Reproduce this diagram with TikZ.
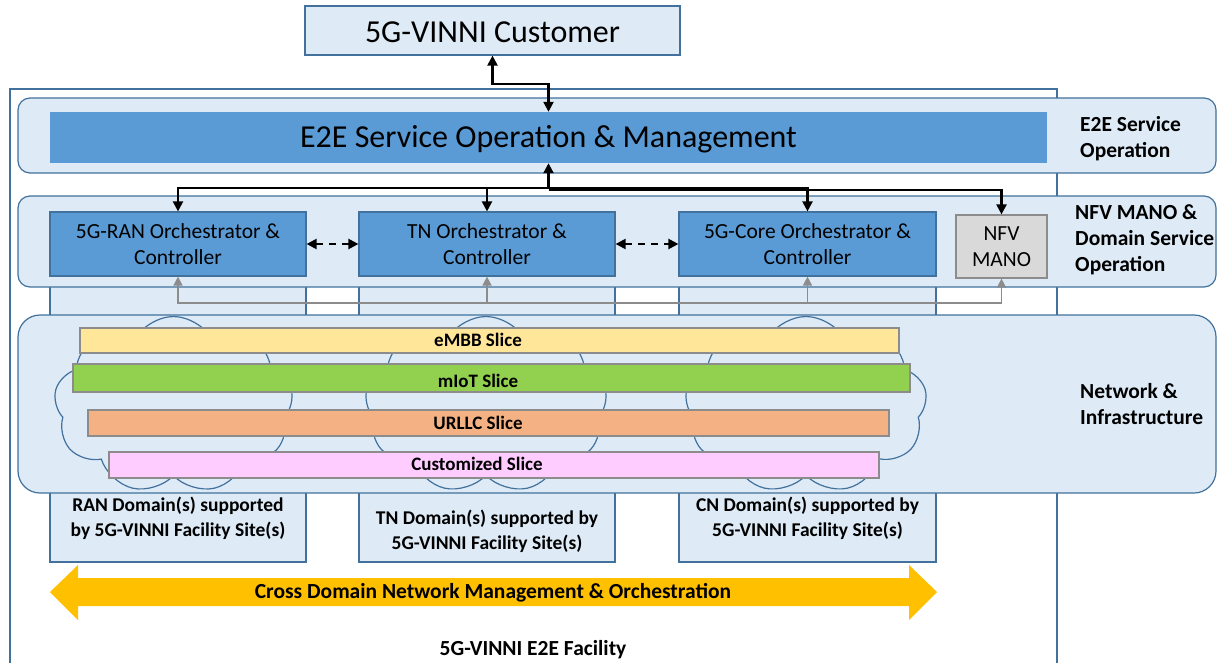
\documentclass[tikz,border=0pt]{standalone}
\usepackage{fontspec}
\setmainfont{Carlito}
\usetikzlibrary{arrows.meta,shapes.symbols,calc}
\definecolor{lb}{HTML}{DEEBF7}
\definecolor{bd}{HTML}{41719C}
\definecolor{db}{HTML}{5B9BD5}
\definecolor{nfvgray}{HTML}{D9D9D9}
\definecolor{gline}{HTML}{8C8C8C}
\definecolor{cembb}{HTML}{FFE699}
\definecolor{cmiot}{HTML}{92D050}
\definecolor{curllc}{HTML}{F4B183}
\definecolor{ccust}{HTML}{FFCCFF}
\definecolor{cyel}{HTML}{FFC000}
\newcommand\fsz[2]{\fontsize{#1}{#2}\selectfont}
\begin{document}
\begin{tikzpicture}[x=1pt,y=-1pt,
  >={Triangle[length=10pt,width=10pt]},
  lbox/.style={draw=bd,fill=lb,line width=1.2pt,inner sep=0pt},
  layer/.style={draw=bd,fill=lb,line width=1.2pt,inner sep=0pt},
  orch/.style={draw=bd,fill=db,line width=1.2pt,inner sep=0pt,align=center,font=\fsz{21.5}{26}},
  slicebox/.style={draw=gline,line width=1.5pt,inner sep=0pt},
  slicetxt/.style={font=\fsz{19}{22}\bfseries,inner sep=0pt},
  sidetxt/.style={font=\fsz{21.5}{26}\bfseries,align=left,anchor=west,inner sep=0pt},
  domtxt/.style={font=\fsz{19.5}{25}\bfseries,align=center,inner sep=0pt},
  cloudy/.style={cloud,cloud puffs=9,cloud puff arc=120,cloud ignores aspect,draw=bd,fill=lb,line width=1.2pt,inner sep=0pt},
  blk/.style={line width=2.2pt,black},
  garr/.style={line width=1.6pt,gline,>={Triangle[length=9pt,width=9pt]}}]
\useasboundingbox (0,0) rectangle (1217,662);
\fill[white] (0,0) rectangle (1217,662);
% outer facility frame
\draw[bd,line width=1.2pt] (10,89) rectangle (1057,680);
% customer
\node[lbox,minimum width=375pt,minimum height=49pt] (cust) at (492.5,30.5) {};
\node[font=\fsz{32}{36},inner sep=0pt] (custtxt) at (492.5,32) {5G-VINNI Customer};
% E2E layer
\node[layer,rounded corners=12pt,minimum width=1198pt,minimum height=75pt] (l1) at (617,135.5) {};
\node[fill=db,inner sep=0pt,minimum width=997pt,minimum height=51pt] (bar) at (548.5,137.5) {};
\node[font=\fsz{32}{36},inner sep=0pt] (bartxt) at (548.5,139.5) {E2E Service Operation \& Management};
% domain columns
\node[lbox,minimum width=256pt,minimum height=312pt] (rancol) at (178,406) {};
\node[lbox,minimum width=256pt,minimum height=312pt] (tncol) at (487,406) {};
\node[lbox,minimum width=257pt,minimum height=312pt] (cncol) at (807.5,406) {};
% NFV layer
\node[layer,rounded corners=12pt,minimum width=1198pt,minimum height=91pt] (l2) at (617,241.5) {};
\node[orch,minimum width=256pt,minimum height=64pt] (ran) at (178,244) {5G-RAN Orchestrator \&\\Controller};
\node[orch,minimum width=256pt,minimum height=64pt] (tn) at (487,244) {TN Orchestrator \&\\Controller};
\node[orch,minimum width=257pt,minimum height=64pt] (core) at (807.5,244) {5G-Core Orchestrator \&\\Controller};
\node[orch,draw=gline,fill=nfvgray,minimum width=91pt,minimum height=63pt] (nfv) at (1001.5,246.5) {NFV\\MANO};
% network layer
\node[layer,rounded corners=22pt,minimum width=1198pt,minimum height=178pt] (l3) at (617,404) {};
\node[cloudy,minimum width=239pt,minimum height=177pt] (cl1) at (173.5,405) {};
\node[cloudy,minimum width=242pt,minimum height=177pt] (cl2) at (486,405) {};
\node[cloudy,minimum width=242pt,minimum height=177pt] (cl3) at (806,405) {};
% slices
\node[slicebox,fill=cembb,minimum width=819pt,minimum height=25pt] (embb) at (489.5,340.5) {};
\node[slicebox,fill=cmiot,minimum width=837pt,minimum height=28pt] (miot) at (491.5,378) {};
\node[slicebox,fill=curllc,minimum width=801pt,minimum height=26pt] (urllc) at (488.5,423) {};
\node[slicebox,fill=ccust,minimum width=770pt,minimum height=26pt] (custs) at (494,465) {};
\node[slicetxt] (tembb) at (478,339.5) {eMBB Slice};
\node[slicetxt] (tmiot) at (478,380.5) {mIoT Slice};
\node[slicetxt] (turllc) at (478,423) {URLLC Slice};
\node[slicetxt] (tcusts) at (477,464) {Customized Slice};
% domain labels
\node[domtxt] (dran) at (178,518) {RAN Domain(s) supported\\by 5G-VINNI Facility Site(s)};
\node[domtxt] (dtn) at (487,531.5) {TN Domain(s) supported by\\5G-VINNI Facility Site(s)};
\node[domtxt] (dcn) at (807.5,518) {CN Domain(s) supported by\\5G-VINNI Facility Site(s)};
% side labels
\node[sidetxt] (s1) at (1080,139) {E2E Service\\Operation};
\node[sidetxt] (s2) at (1075,240) {NFV MANO \&\\Domain Service\\Operation};
\node[sidetxt] (s3) at (1080,404) {Network \&\\Infrastructure};
% black arrows
\draw[blk,<->] (cust.south) |- ($(bar.north)+(0,-28)$) -- (bar.north);
\coordinate (hub) at (548.5,188);
\coordinate (hub2) at (548.5,190);
\draw[blk,<-] (bar.south) -- (hub);
\draw[blk,->] (hub) -| (ran.north);
\draw[blk,->] (hub) -| (tn.north);
\draw[blk,->] (hub) -| (core.north);
\draw[blk,->] (hub2) -| (nfv.north);
\draw[blk,<->,dash pattern=on 7pt off 6pt] (ran.east) -- (tn.west);
\draw[blk,<->,dash pattern=on 7pt off 6pt] (tn.east) -- (core.west);
% gray arrows
\coordinate (gl) at (0,303);
\draw[garr,<->] (nfv.south) |- (gl -| ran.south) -- (ran.south);
\draw[garr,->] (gl -| tn.south) -- (tn.south);
\draw[garr,->] (gl -| core.south) -- (core.south);
% cross-domain double arrow
\fill[cyel] (50,592) -- (78,565) -- (78,578) -- (909,578) -- (909,565) -- (937,592) -- (909,620) -- (909,606) -- (78,606) -- (78,620) -- cycle;
\node[font=\fsz{21.5}{26}\bfseries,inner sep=0pt] (cross) at (493,593) {Cross Domain Network Management \& Orchestration};
\node[font=\fsz{21.5}{26}\bfseries,inner sep=0pt] (fac) at (533,650) {5G-VINNI E2E Facility};
\end{tikzpicture}
\end{document}
